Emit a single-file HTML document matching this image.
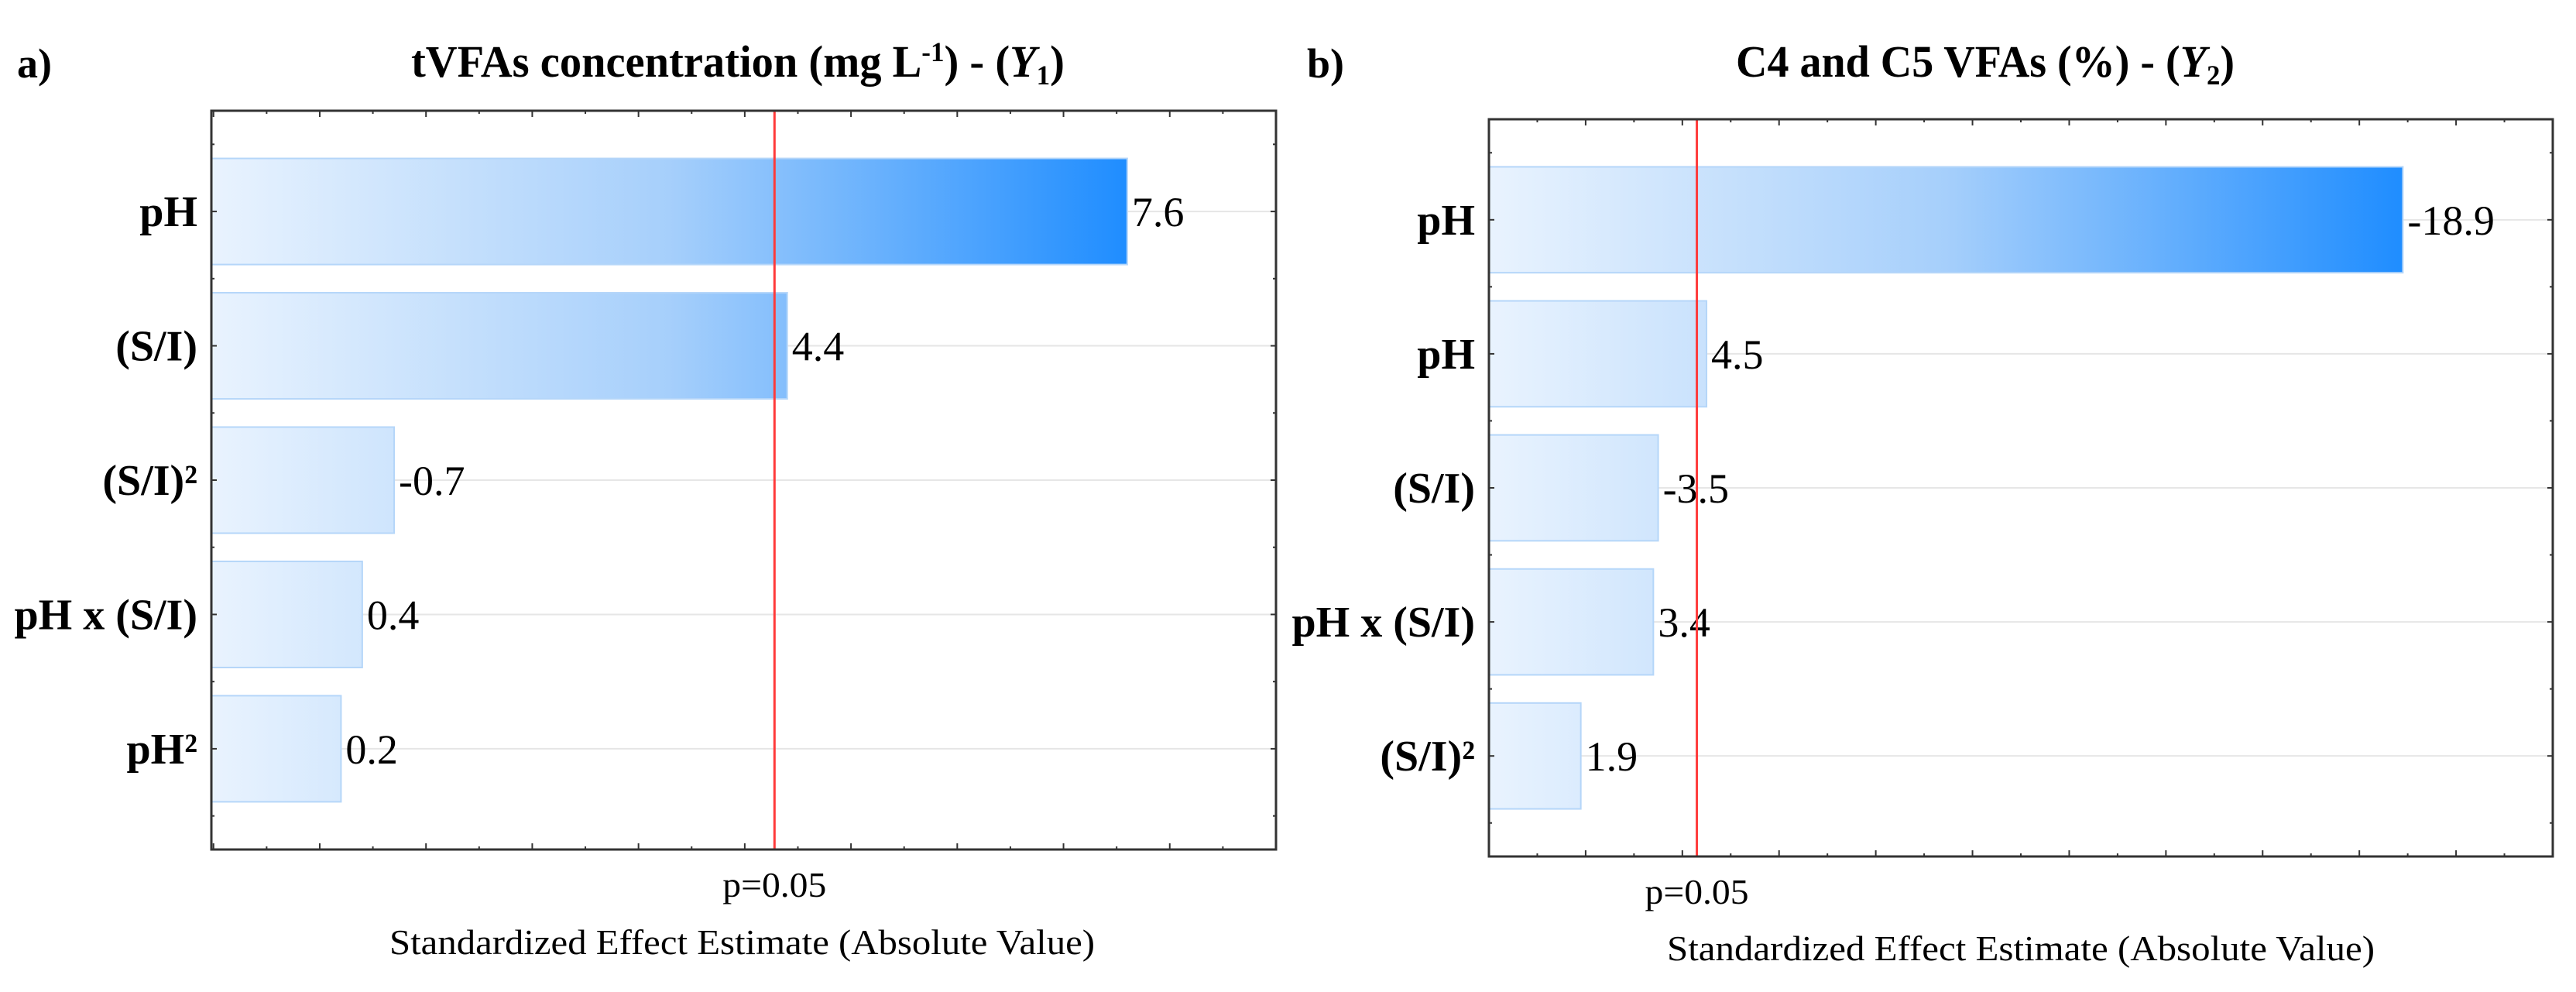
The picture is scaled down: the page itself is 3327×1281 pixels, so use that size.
<!DOCTYPE html>
<html><head><meta charset="utf-8">
<style>
html,body{margin:0;padding:0;background:#fff;}
svg{display:block;font-family:"Liberation Serif",serif;}
</style></head>
<body>
<svg id="chart" width="3327" height="1281" viewBox="0 0 3327 1281" xmlns="http://www.w3.org/2000/svg">
<defs>
<linearGradient id="gA" gradientUnits="userSpaceOnUse" x1="273" y1="0" x2="1456" y2="0">
<stop offset="0" stop-color="#e9f3fe"/><stop offset="0.5" stop-color="#a6cffb"/><stop offset="1" stop-color="#1f8dff"/>
</linearGradient>
<linearGradient id="gB" gradientUnits="userSpaceOnUse" x1="1923" y1="0" x2="3103" y2="0">
<stop offset="0" stop-color="#e9f3fe"/><stop offset="0.5" stop-color="#a6cffb"/><stop offset="1" stop-color="#1f8dff"/>
</linearGradient>
</defs>

<text x="22" y="100" font-size="54" font-weight="bold">a)</text>
<text x="531" y="99" font-size="58" font-weight="bold" textLength="844" lengthAdjust="spacingAndGlyphs">tVFAs concentration (mg L<tspan dy="-20" font-size="36">-1</tspan><tspan dy="20">) - (</tspan><tspan font-style="italic">Y</tspan><tspan dy="10" font-size="36">1</tspan><tspan dy="-10">)</tspan></text>

<text x="1688" y="100" font-size="54" font-weight="bold">b)</text>
<text x="2242" y="99" font-size="58" font-weight="bold" textLength="644" lengthAdjust="spacingAndGlyphs">C4 and C5 VFAs (%) - (<tspan font-style="italic">Y</tspan><tspan dy="10" font-size="36">2</tspan><tspan dy="-10">)</tspan></text>

<g id="plotA"></g>
<g id="plotB"></g>
</svg>
<script>
// Chart a data
const catsA = ["pH", "(S/I)", "(S/I)²", "pH x (S/I)", "pH²"];
const effA = [7.6, 4.4, 0.7, 0.4, 0.2];
const labelsA = ["7.6", "4.4", "-0.7", "0.4", "0.2"];
const domainA = [-1.02, 9];
const pLineA = 4.28;
// Chart b data
const catsB = ["pH", "pH", "(S/I)", "pH x (S/I)", "(S/I)²"];
const effB = [18.9, 4.5, 3.5, 3.4, 1.9];
const labelsB = ["-18.9", "4.5", "-3.5", "3.4", "1.9"];
const domainB = [0, 22];
const pLineB = 4.3;

const NS = "http://www.w3.org/2000/svg";
function mk(parent, tag, attrs) {
  const e = document.createElementNS(NS, tag);
  for (const k in attrs) e.setAttribute(k, attrs[k]);
  parent.appendChild(e);
  return e;
}

function draw(gid, cfg, cats, vals, labs, domain, pval) {
  const g = document.getElementById(gid);
  const L = cfg.L, R = cfg.R, T = cfg.T, B = cfg.B;
  const x = v => L + (v - domain[0]) / (domain[1] - domain[0]) * (R - L);
  const band = (B - T) / (cats.length + 0.5);
  const yC = i => T + band * 0.75 + band * i;
  const bh = band * 0.79;

  cats.forEach((c, i) => {
    const gl = mk(g, "line", {x1: L, x2: R, y1: yC(i), y2: yC(i), stroke: "#e6e6e6", "stroke-width": 2});
    
    
  });
  cats.forEach((c, i) => {
    const r = mk(g, "rect", {x: L, y: yC(i) - bh / 2, width: x(vals[i]) - L, height: bh, fill: "url(#" + cfg.grad + ")", stroke: "#b5d6f9", "stroke-width": 2});
    
    
    const t = mk(g, "text", {x: x(vals[i]) + 6, y: yC(i) + 19, "font-size": 54});
    t.textContent = labs[i];
    
    
    const cl = mk(g, "text", {x: cfg.labelX, y: yC(i) + 19, "font-size": 56, "font-weight": "bold", "text-anchor": "end"});
    cl.textContent = c;
    
    
  });
  for (let v = Math.ceil(domain[0] / cfg.step * 2) * cfg.step / 2; v <= domain[1] + 1e-9; v += cfg.step / 2) {
    const major = Math.abs(v / cfg.step - Math.round(v / cfg.step)) < 1e-6;
    const len = major ? 8 : 4;
    mk(g, "line", {x1: x(v), x2: x(v), y1: B, y2: B - len, stroke: "#333", "stroke-width": 2});
    mk(g, "line", {x1: x(v), x2: x(v), y1: T, y2: T + len, stroke: "#333", "stroke-width": 2});
  }
  for (let k = 0; k <= cats.length * 2 + 1; k++) {
    const yy = T + band * 0.25 + band * k / 2;
    if (yy >= B) break;
    const len = k % 2 === 1 ? 7 : 4;
    mk(g, "line", {x1: L, x2: L + len, y1: yy, y2: yy, stroke: "#333", "stroke-width": 2});
    mk(g, "line", {x1: R, x2: R - len, y1: yy, y2: yy, stroke: "#333", "stroke-width": 2});
  }
  const pl = mk(g, "line", {x1: x(pval), x2: x(pval), y1: T, y2: B, stroke: "#ff3b3b", "stroke-width": 3});
  
  
  const pt = mk(g, "text", {x: x(pval), y: cfg.pY, "font-size": 46, "text-anchor": "middle", textLength: 134, lengthAdjust: "spacingAndGlyphs"});
  pt.textContent = "p=0.05";
  
  
  const fr = mk(g, "rect", {x: L, y: T, width: R - L, height: B - T, fill: "none", stroke: "#333", "stroke-width": 3});
  
  
  const at = mk(g, "text", {x: cfg.atX, y: cfg.atY, "font-size": 46, textLength: cfg.atW, lengthAdjust: "spacingAndGlyphs"});
  at.textContent = "Standardized Effect Estimate (Absolute Value)";
  
  
}

draw("plotA", {L: 273, R: 1648, T: 143, B: 1097, grad: "gA", step: 1, labelX: 255, pY: 1158, atX: 503, atY: 1232, atW: 911}, catsA, effA, labelsA, domainA, pLineA);
draw("plotB", {L: 1923, R: 3297, T: 154, B: 1106, grad: "gB", step: 2, labelX: 1905, pY: 1167, atX: 2153, atY: 1240, atW: 914}, catsB, effB, labelsB, domainB, pLineB);
</script>
</body></html>
